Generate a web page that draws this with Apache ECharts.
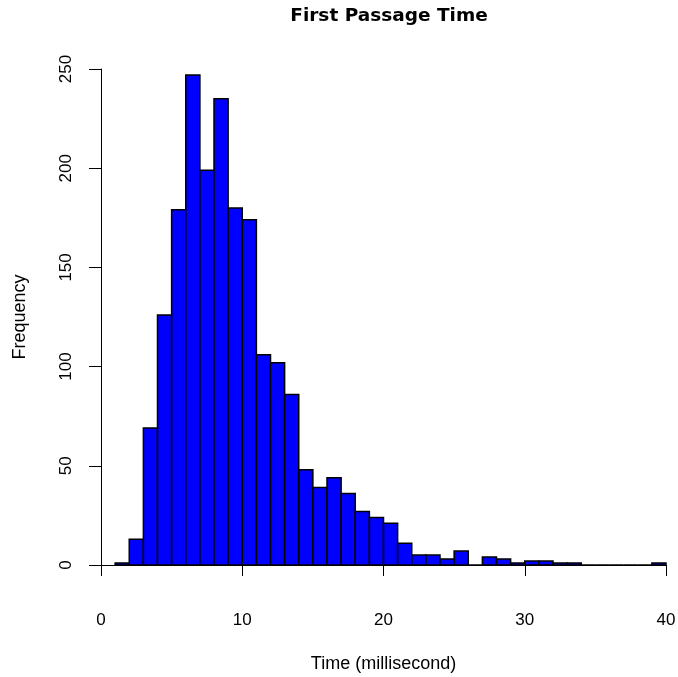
<!DOCTYPE html>
<html>
<head>
<meta charset="utf-8">
<script src="https://cdn.jsdelivr.net/npm/echarts@6/dist/echarts.min.js"></script>
<style>html,body{margin:0;padding:0;background:#fff}#c{width:678px;height:677px}</style>
</head>
<body>
<div id="c"></div>
<script>
// Histogram bins (left edges, width 1) and counts
var binStarts = [1,2,3,4,5,6,7,8,9,10,11,12,13,14,15,16,17,18,19,20,21,22,23,24,25,26,27,28,29,30,31,32,33,34,35,36,37,38,39];
var counts    = [1,13,69,126,179,247,199,235,180,174,106,102,86,48,39,44,36,27,24,21,11,5,5,3,7,0,4,3,1,2,2,1,1,0,0,0,0,0,1];
var binWidth = 1;
var xTicks = [0,10,20,30,40];
var yTicks = [0,50,100,150,200,250];

var data = binStarts.map(function(s,i){ return [s, s+binWidth, counts[i]]; });
var font = 'Liberation Sans, Arial, sans-serif';

var chart = echarts.init(document.getElementById('c'), null, {renderer:'canvas'});
chart.setOption({
  animation:false,
  backgroundColor:'#ffffff',
  title:{
    text:'First Passage Time', left:384, top:2, textAlign:'center',
    textStyle:{fontFamily:'DejaVu Sans, sans-serif', fontWeight:'bold', fontSize:18.5, color:'#000'}
  },
  grid:{left:101, right:12, top:69, bottom:112, containLabel:false, outerBoundsMode:'none'},
  xAxis:{
    type:'value', min:0, max:40, interval:10, offset:20,
    name:'Time (millisecond)', nameLocation:'middle', nameGap:70,
    nameTextStyle:{fontFamily:font, fontSize:18, color:'#000'},
    axisLine:{show:true, lineStyle:{color:'#000', width:1}},
    axisTick:{show:true, inside:false, length:11, lineStyle:{color:'#000'}},
    axisLabel:{fontFamily:font, fontSize:17, color:'#000', margin:27,
      formatter:function(v){ return xTicks.indexOf(v)>=0 ? String(v) : ''; }},
    splitLine:{show:false}
  },
  yAxis:{
    type:'value', min:0, max:250, interval:50, offset:8,
    name:'Frequency', nameLocation:'middle', nameGap:64, nameRotate:90,
    nameTextStyle:{fontFamily:font, fontSize:18, color:'#000'},
    axisLine:{show:true, lineStyle:{color:'#000', width:1}},
    axisTick:{show:true, length:12, lineStyle:{color:'#000'}},
    axisLabel:{fontFamily:font, fontSize:17, color:'#000', margin:18, rotate:90,
      formatter:function(v){ return yTicks.indexOf(v)>=0 ? String(v) : ''; }},
    splitLine:{show:false}
  },
  series:[{
    type:'custom',
    data:data,
    encode:{x:[0,1], y:2},
    renderItem:function(params, api){
      var p0 = api.coord([api.value(0), 0]);
      var p1 = api.coord([api.value(1), api.value(2)]);
      return {
        type:'rect',
        shape:{x:p0[0], y:p1[1], width:p1[0]-p0[0], height:p0[1]-p1[1]},
        style:{fill:'#0000ff', stroke:'#000', lineWidth:1.5}
      };
    }
  }]
});
</script>
</body>
</html>
